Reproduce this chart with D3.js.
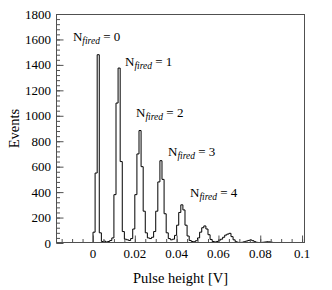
<!DOCTYPE html>
<html>
<head>
<meta charset="utf-8">
<script src="https://cdn.jsdelivr.net/npm/d3@7"></script>
<style>
  html, body { margin: 0; padding: 0; background: #fff; }
  svg { display: block; }
  text { font-family: "Liberation Serif", "Times New Roman", serif; fill: #000; }
</style>
</head>
<body>
<svg id="chart" width="332" height="290"></svg>
<script>
// ---- data ----
const binStart = -0.017;       // lower edge of first bin [V]
const binWidth = 0.001;        // bin width [V]
const counts = [
  // -0.017 .. -0.002
  0,0,0,0,0,0,0,0,0,0,0,0,0,0,0,0,
  // -0.001 .. 0.009
  3,85,550,1480,80,12,15,8,12,20,40,
  // 0.010 .. 0.019
  380,1100,1375,640,90,30,25,20,35,110,
  // 0.020 .. 0.029
  380,700,884,600,250,80,40,35,45,90,
  // 0.030 .. 0.039
  250,480,647,500,230,80,35,25,30,60,
  // 0.040 .. 0.049
  140,240,300,260,140,55,20,12,10,18,
  // 0.050 .. 0.059
  40,85,120,134,110,65,28,12,8,12,
  // 0.060 .. 0.069
  22,30,45,62,70,76,50,25,10,5,
  // 0.070 .. 0.079
  4,6,10,15,20,24,18,10,5,3,
  // 0.080 .. 0.089
  4,6,8,10,9,6,4,3,2,1,
  // 0.090 .. 0.100
  1,0,1,2,1,0,1,0,0,1,0
];
const xDomain = [-0.0177, 0.1014];
const yDomain = [0, 1800];
const xTickLabels = [0, 0.02, 0.04, 0.06, 0.08, 0.1];
const yTickLabels = [0, 200, 400, 600, 800, 1000, 1200, 1400, 1600, 1800];
const peakLabels = ["0", "1", "2", "3", "4"];
const peakLabelX = [-0.0096, 0.0153, 0.0206, 0.0359, 0.0464];
const peakLabelY = [1588, 1390, 987, 680, 363];
const xTitle = "Pulse height [V]";
const yTitle = "Events";

// ---- layout ----
const svg = d3.select("#chart");
const L = 56, R = 305, T = 14, B = 243;
const x = d3.scaleLinear().domain(xDomain).range([L, R]);
const y = d3.scaleLinear().domain(yDomain).range([B, T]);
const axisColor = "#505050";

// histogram outline
const bins = counts.map((c, i) => ({lo: binStart + i * binWidth, hi: binStart + (i + 1) * binWidth, c}));
svg.append("clipPath").attr("id", "clip")
  .append("rect").attr("x", L).attr("y", T).attr("width", R - L).attr("height", B - T);
const p = d3.path();
p.moveTo(x(bins[0].lo), y(0));
bins.forEach(b => { p.lineTo(x(b.lo), y(b.c)); p.lineTo(x(b.hi), y(b.c)); });
p.lineTo(x(bins[bins.length - 1].hi), y(0));
svg.append("path").attr("d", p.toString())
  .attr("fill", "none").attr("stroke", "#000").attr("stroke-width", 1)
  .attr("clip-path", "url(#clip)");

// frame
svg.append("rect").attr("x", L + 0.5).attr("y", T + 0.5)
  .attr("width", R - L - 1).attr("height", B - T - 1)
  .attr("fill", "none").attr("stroke", axisColor).attr("stroke-width", 1);

// x axis (ticks inward)
const xMinor = d3.range(-0.015, 0.1001, 0.005).filter(v => v >= xDomain[0] && v <= xDomain[1]);
const xAxisMinor = d3.axisTop(x).tickValues(xMinor).tickSize(3.5).tickFormat("");
const gxm = svg.append("g").attr("transform", `translate(0,${B - 0.5})`).call(xAxisMinor);
const xAxis = d3.axisTop(x).tickValues(xTickLabels).tickSize(7).tickFormat("");
const gx = svg.append("g").attr("transform", `translate(0,${B - 0.5})`).call(xAxis);
[gxm, gx].forEach(g => { g.select(".domain").remove(); g.selectAll("line").attr("stroke", axisColor); });
svg.append("g").selectAll("text").data(xTickLabels).join("text")
  .attr("x", d => x(d)).attr("y", 258)
  .attr("text-anchor", "middle").attr("font-size", 13)
  .text(d => d3.format("~g")(d));

// y axis (ticks inward)
const yMinor = d3.range(0, 1801, 40);
const yAxisMinor = d3.axisRight(y).tickValues(yMinor).tickSize(3.5).tickFormat("");
const gym = svg.append("g").attr("transform", `translate(${L + 0.5},0)`).call(yAxisMinor);
const yAxis = d3.axisRight(y).tickValues(yTickLabels).tickSize(7).tickFormat("");
const gy = svg.append("g").attr("transform", `translate(${L + 0.5},0)`).call(yAxis);
[gym, gy].forEach(g => { g.select(".domain").remove(); g.selectAll("line").attr("stroke", axisColor); });
svg.append("g").selectAll("text").data(yTickLabels).join("text")
  .attr("x", 51).attr("y", d => y(d) + 4.5)
  .attr("text-anchor", "end").attr("font-size", 13)
  .text(d => d);

// axis titles
svg.append("text").attr("x", (L + R) / 2).attr("y", 283)
  .attr("text-anchor", "middle").attr("font-size", 14.5).text(xTitle);
svg.append("text").attr("transform", `translate(19,${(T + B) / 2}) rotate(-90)`)
  .attr("text-anchor", "middle").attr("font-size", 14.5).text(yTitle);

// peak labels
peakLabels.forEach((lab, i) => {
  const t = svg.append("text").attr("x", x(peakLabelX[i])).attr("y", y(peakLabelY[i]))
    .attr("font-size", 13);
  t.append("tspan").text("N");
  t.append("tspan").attr("font-size", 9.5).attr("font-style", "italic").attr("dy", 3).text("fired");
  t.append("tspan").attr("dy", -3).text(" = " + lab);
});
</script>
</body>
</html>
